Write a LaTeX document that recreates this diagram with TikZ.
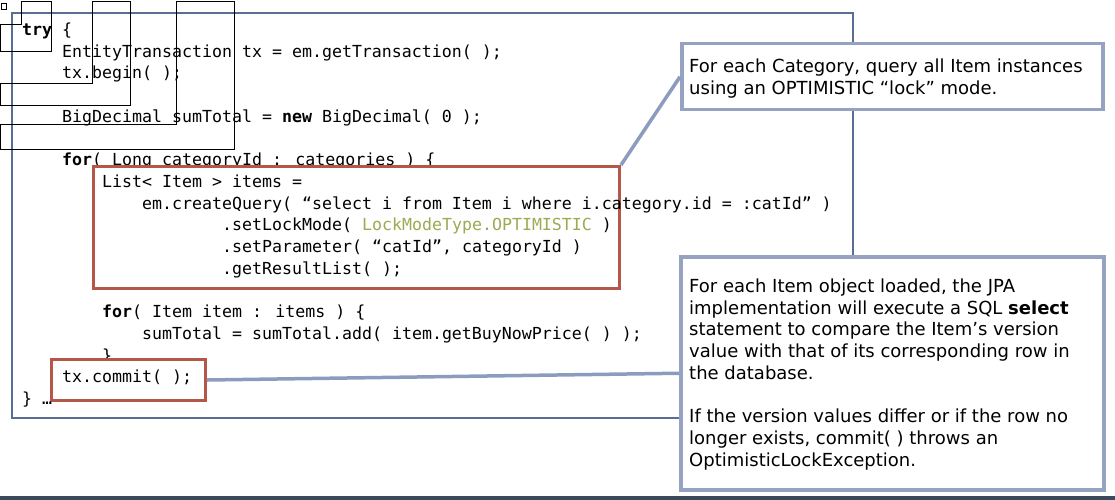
\documentclass[tikz,border=0pt]{standalone}
\usepackage{fontspec}
\setmainfont{DejaVu Sans}
\newfontfamily\codefont{DejaVu Sans Mono}
\usetikzlibrary{shadows}
\definecolor{framecol}{RGB}{90,110,148}
\definecolor{calloutcol}{RGB}{150,162,194}
\definecolor{linkcol}{RGB}{140,156,190}
\definecolor{hilite}{RGB}{180,86,72}
\definecolor{olive}{RGB}{156,170,82}
\definecolor{barcol}{RGB}{60,72,92}
\tikzset{
  codeline/.style={anchor=base west, inner sep=0pt, font=\codefont\fontsize{16.6}{20}\selectfont},
  hlbox/.style={draw=hilite, line width=3pt, fill=white, anchor=north west, inner sep=0pt,
     drop shadow={opacity=0.25, shadow xshift=1.5pt, shadow yshift=-1.5pt}},
  callout/.style={draw=calloutcol, line width=3.5pt, fill=white, anchor=north west, inner sep=0pt},
  callouttext/.style={anchor=base west, inner sep=0pt, font=\fontsize{18}{21.7}\selectfont},
  link/.style={draw=linkcol, line width=3.5pt},
  artifact/.style={draw=black, line width=0.9pt},
}
\begin{document}
\begin{tikzpicture}[x=1pt,y=-1pt]
\useasboundingbox (0,0) rectangle (1115,500);
\fill[white] (0,0) rectangle (1115,500);
% bottom bar
\fill[barcol] (0,495.5) rectangle (1115,500);
% main frame
\draw[framecol, line width=1.5pt] (12,13) rectangle (853,418);

% code lines
\node[codeline] (l1) at (22,35.5) {\textbf{try} \{};
\node[codeline] (l2) at (62,57.2) {EntityTransaction tx = em.getTransaction( );};
\node[codeline] (l3) at (62,78.9) {tx.begin( );};
\node[codeline] (l5) at (62,122.3) {BigDecimal sumTotal = \textbf{new} BigDecimal( 0 );};
\node[codeline] (l7) at (62,165.7) {\textbf{for}( Long categoryId : categories ) \{};

% highlight box 1
\node[hlbox, minimum width=526pt, minimum height=122pt] (box1) at (92,165) {};
\node[codeline] (l8) at (102,187.4) {List< Item > items =};
\node[codeline] (l9) at (142,209.1) {em.createQuery( “select i from Item i where i.category.id = :catId” )};
\node[codeline] (l10) at (222,230.8) {.setLockMode( \textcolor{olive}{LockModeType.OPTIMISTIC} )};
\node[codeline] (l11) at (222,252.5) {.setParameter( “catId”, categoryId )};
\node[codeline] (l12) at (222,274.2) {.getResultList( );};

\node[codeline] (l14) at (102,317.6) {\textbf{for}( Item item : items ) \{};
\node[codeline] (l15) at (142,339.3) {sumTotal = sumTotal.add( item.getBuyNowPrice( ) );};
\node[codeline] (l16) at (102,361.0) {\}};

% highlight box 2
\node[hlbox, minimum width=154pt, minimum height=41pt] (box2) at (50,358) {};
\node[codeline] (l17) at (62,382.7) {tx.commit( );};
\node[codeline] (l18) at (22,404.4) {\} …};

% callout 1
\node[callout, minimum width=421pt, minimum height=66pt] (c1) at (680,42) {};
\node[callouttext] (t1a) at (689,72.7) {For each Category, query all Item instances};
\node[callouttext] (t1b) at (689,94.4) {using an OPTIMISTIC “lock” mode.};
% callout 2
\node[callout, minimum width=423pt, minimum height=233pt] (c2) at (679,255) {};
\node[callouttext] (t2a) at (689,292.3) {For each Item object loaded, the JPA};
\node[callouttext] (t2b) at (689,314.0) {implementation will execute a SQL \textbf{select}};
\node[callouttext] (t2c) at (689,335.7) {statement to compare the Item’s version};
\node[callouttext] (t2d) at (689,357.4) {value with that of its corresponding row in};
\node[callouttext] (t2e) at (689,379.1) {the database.};
\node[callouttext] (t2f) at (689,422.6) {If the version values differ or if the row no};
\node[callouttext] (t2g) at (689,444.3) {longer exists, commit( ) throws an};
\node[callouttext] (t2h) at (689,466.0) {OptimisticLockException.};

% connectors
\draw[link] (box1.north east) -- (c1.west);
\draw[link] (box2.east) -- (c2.west);

% stray outline rectangles (top-left)
\draw[artifact] (1,3) rectangle (6,9);
\draw[artifact] (21,1) -- (51,1) -- (51,51) -- (0,51) -- (0,24) -- (21,24) -- cycle;
\draw[artifact] (92,1) -- (130,1) -- (130,105) -- (0,105) -- (0,83) -- (92,83) -- cycle;
\draw[artifact] (176,1) -- (234,1) -- (234,149) -- (0,149) -- (0,124) -- (176,124) -- cycle;
\end{tikzpicture}
\end{document}
